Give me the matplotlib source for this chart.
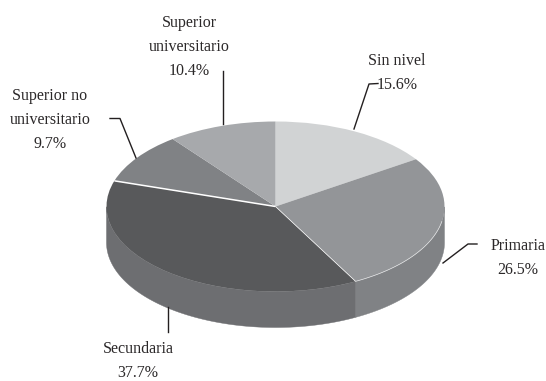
import matplotlib

matplotlib.use("Agg")

import matplotlib.pyplot as plt
import numpy as np

categories = ["Sin nivel", "Primaria", "Secundaria", "Superior no\nuniversitario", "Superior\nuniversitario"]
shares = [15.6, 26.5, 37.7, 9.7, 10.4]

TOP_COLORS = ["#d1d3d4", "#939598", "#58595b", "#808285", "#a7a9ac"]
SIDE_COLORS = ["#a7a9ac", "#808285", "#6d6e71", "#6d6e71", "#808285"]
LABEL_POS = [(397, 73), (518, 258), (138, 361), (50, 120), (189, 47)]
LEADERS = [
    [(378, 83.5), (369, 84), (354, 129)],
    [(477, 244), (468, 244), (443, 263)],
    [(168, 307), (168, 332)],
    [(110, 118.5), (120, 118.5), (136, 158)],
    [(223, 71), (223, 124)],
]

W, H = 546, 381
CX, CY, RX, RY = 275.5, 206.5, 169, 85
DEPTH = 36 / RY

fig = plt.figure(figsize=(W / 100, H / 100), dpi=100)
fig.patch.set_facecolor("white")

# pie axes: radius 1 maps onto the ellipse, which gives the tilted look
axis = fig.add_axes([0, 0, 1, 1])
shares_total = sum(shares)
edges = np.cumsum([0] + shares) / shares_total
angles = np.pi / 2 - 2 * np.pi * edges

# side wall first, only the part facing the viewer
for i in range(len(shares)):
    start, end = angles[i + 1], angles[i]
    t = np.linspace(start, end, 200)
    t = t[np.sin(t) < 0.0]
    if len(t) < 2:
        continue
    x = np.cos(t)
    y = np.sin(t)
    axis.fill(
        np.r_[x, x[::-1]],
        np.r_[y, y[::-1] - DEPTH],
        color=SIDE_COLORS[i],
        linewidth=0.3,
        zorder=1,
    )

wedges, _ = axis.pie(
    shares,
    colors=TOP_COLORS,
    startangle=90,
    counterclock=False,
    radius=1,
    wedgeprops={"linewidth": 0},
)
for wedge in wedges:
    wedge.set_zorder(2)

# thin white seams around the dark slice
seam = angles[3]
axis.plot([0, np.cos(seam)], [0, np.sin(seam)], color="white", linewidth=1.1, zorder=3, solid_capstyle="butt")
seam2 = angles[2]
axis.plot([0, np.cos(seam2)], [0, np.sin(seam2)], color="white", linewidth=0.5, zorder=3, solid_capstyle="butt")
rim = np.linspace(angles[2], angles[2] + 0.9, 60)
axis.plot(np.cos(rim), np.sin(rim), color="#e6e7e8", linewidth=0.5, zorder=3)

axis.set_aspect("auto")
axis.set_xlim(-CX / RX, (W - CX) / RX)
axis.set_ylim((CY - H) / RY, CY / RY)
axis.axis("off")

# labels and leader lines sit in pixel coordinates
overlay = fig.add_axes([0, 0, 1, 1])
overlay.set_xlim(0, W)
overlay.set_ylim(H, 0)
overlay.axis("off")
overlay.patch.set_alpha(0)

for name, share, pos, leader in zip(categories, shares, LABEL_POS, LEADERS):
    overlay.text(
        pos[0],
        pos[1],
        f"{name}\n{share}%",
        ha="center",
        va="center",
        family="Liberation Serif",
        fontsize=11.5,
        color="#2b2829",
        linespacing=1.66,
    )
    xs, ys = zip(*leader)
    overlay.plot(xs, ys, color="#231f20", linewidth=1.0)

fig.savefig("out.png", dpi=100)
plt.close(fig)
